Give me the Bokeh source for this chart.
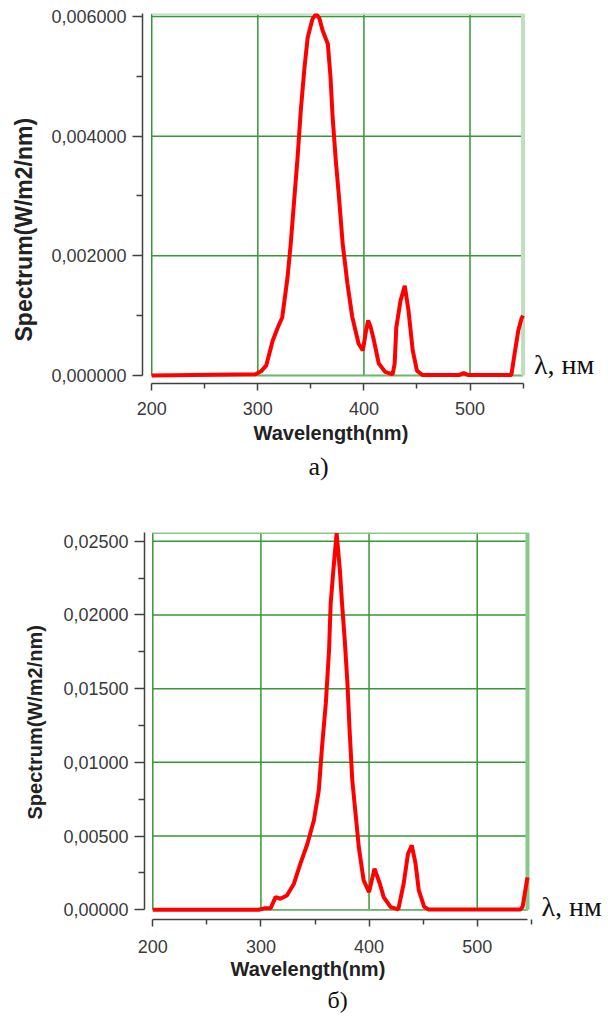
from bokeh.plotting import figure
from bokeh.models import FixedTicker, NumeralTickFormatter, Label, Title, Range1d
from bokeh.embed import file_html
from bokeh.resources import INLINE

# ---------------- data ----------------
wl_a = [200, 298, 303, 308, 314, 319, 323, 328, 331, 334, 337.5, 340.5, 344, 347,
        351.5, 355, 358, 361, 366, 368.5, 370.5, 373.5, 376.5, 380, 384.5, 389,
        395, 399, 402, 404, 406.5, 409.5, 414, 420, 427, 429, 430.5, 434.5, 438.5,
        442, 446, 450, 455, 490, 494, 498, 539, 542, 545.5, 548.5, 550]
sp_a = [0, 0.00002, 0.00007, 0.00017, 0.00058, 0.00081, 0.00097, 0.00164, 0.0022,
        0.00287, 0.00365, 0.00443, 0.00515, 0.00565, 0.00596, 0.00604, 0.00597,
        0.00577, 0.00554, 0.00499, 0.00432, 0.00359, 0.00298, 0.0022, 0.00153,
        0.00098, 0.00053, 0.00042, 0.00075, 0.00092, 0.0008, 0.00058, 0.0002,
        0.00006, 0.00002, 0.0002, 0.0008, 0.00125, 0.0015, 0.00109, 0.00042,
        0.00008, 0.00001, 0.00001, 0.00004, 0.00001, 0.00001, 0.00036, 0.00075,
        0.00095, 0.001]

wl_b = [200, 298, 303, 309, 313.5, 318, 324, 330.5, 336.5, 343, 349, 353.5, 356.5,
        360, 363, 364.5, 367, 368.5, 370, 371.5, 373, 375, 377.5, 380, 382, 384.5,
        387.5, 390.5, 395, 400, 405, 410, 413.5, 420, 427, 432, 436, 439.5, 443,
        446, 451, 455, 540, 542, 545, 546.5]
sp_b = [0, 0, 0.0001, 0.0001, 0.00086, 0.00075, 0.00097, 0.00177, 0.00313, 0.00448,
        0.00607, 0.0081, 0.01105, 0.014, 0.01762, 0.02079, 0.02305, 0.0243, 0.02554,
        0.0243, 0.02305, 0.02079, 0.0183, 0.01535, 0.01218, 0.00878, 0.00652,
        0.00425, 0.00199, 0.0012, 0.00279, 0.00177, 0.00086, 0.00018, 0.00003,
        0.00177, 0.0038, 0.00437, 0.00313, 0.00131, 0.0002, 0.00002, 0.00002,
        0.0002, 0.00154, 0.0022]

x_ticks = [200, 300, 400, 500]
x_tick_labels = ["200", "300", "400", "500"]
x_minor = [250, 350, 450, 550]

y_ticks_a = [0, 0.002, 0.004, 0.006]
y_tick_labels_a = ["0,000000", "0,002000", "0,004000", "0,006000"]
y_minor_a = [0.001, 0.003, 0.005]

y_ticks_b = [0, 0.005, 0.01, 0.015, 0.02, 0.025]
y_tick_labels_b = ["0,00000", "0,00500", "0,01000", "0,01500", "0,02000", "0,02500"]
y_minor_b = [0.0025, 0.0075, 0.0125, 0.0175, 0.0225]

x_title = "Wavelength(nm)"
y_title = "Spectrum(W/m2/nm)"
unit_label = "λ, нм"
captions = ["а)", "б)"]

GRID = "#339933"
RED = "#ff0000"
AXIS = "#404040"


def make_chart(wl, sp, yt, ytl, ymin, fmt, geo):
    p = figure(width=geo["w"], height=geo["h"], output_backend="svg",
               toolbar_location=None, title=None,
               x_range=Range1d(geo["x0"], geo["x1"]),
               y_range=Range1d(geo["y0"], geo["y1"]),
               min_border_left=geo["bl"], min_border_right=0,
               min_border_top=geo["bt"], min_border_bottom=geo["bb"])
    p.outline_line_color = None
    p.grid.visible = False
    p.background_fill_color = "white"

    xmax = geo["xmax"]
    ymax = geo["y1"]
    n_x = len(x_ticks) - 1
    # grid lines
    p.segment(x0=x_ticks[1:], y0=[0] * n_x, x1=x_ticks[1:], y1=[ymax] * n_x,
              line_color=GRID, line_width=1.5)
    p.segment(x0=[x_ticks[0]] * len(yt), y0=yt, x1=[xmax] * len(yt), y1=yt,
              line_color=GRID, line_width=1.5)
    # plot-area border
    p.segment(x0=[x_ticks[0]], y0=[0], x1=[x_ticks[0]], y1=[ymax],
              line_color=GRID, line_width=1.5)
    p.segment(x0=[x_ticks[0]], y0=[0], x1=[xmax], y1=[0],
              line_color="#6ab86a", line_width=1.5)
    p.segment(x0=[x_ticks[0]], y0=[ymax], x1=[xmax], y1=[ymax],
              line_color=geo["edge"], line_width=3)
    p.segment(x0=[xmax], y0=[0], x1=[xmax], y1=[ymax],
              line_color=geo["edge"], line_width=4)

    p.line(wl, sp, line_color=RED, line_width=4)

    # axes
    xa = p.xaxis[0]
    xa.ticker = FixedTicker(ticks=x_ticks, minor_ticks=x_minor)
    xa.major_label_overrides = dict(zip(x_ticks, x_tick_labels))
    xa.bounds = (x_ticks[0], xmax)
    ya = p.yaxis[0]
    ya.ticker = FixedTicker(ticks=yt, minor_ticks=ymin)
    ya.formatter = NumeralTickFormatter(format=fmt, language="ru")
    ya.major_label_overrides = dict(zip(yt, ytl))
    ya.bounds = (0, ymax)
    for ax in (xa, ya):
        ax.axis_line_color = AXIS
        ax.axis_line_width = 1.5
        ax.major_tick_line_color = AXIS
        ax.minor_tick_line_color = AXIS
        ax.major_tick_line_width = 1.5
        ax.minor_tick_line_width = 1.5
        ax.major_tick_in = 0
        ax.minor_tick_in = 0
        ax.major_label_text_font = "Liberation Sans"
        ax.major_label_text_font_size = "18px"
        ax.major_label_text_color = "#3a3a3a"
    xa.major_tick_out = 7
    xa.minor_tick_out = 5
    xa.major_label_standoff = geo["xl_std"]
    ya.major_tick_out = 10
    ya.minor_tick_out = 6
    ya.major_label_standoff = 6

    p.add_layout(Title(text=y_title, align="left", offset=geo["yt_off"],
                       vertical_align=geo["yt_va"],
                       text_font="Liberation Sans", text_font_size=geo["yt_size"],
                       text_font_style="bold", text_color="#222222",
                       standoff=geo["yt_std"]), "left")
    p.add_layout(Title(text=x_title, align="left", offset=geo["xt_off"],
                       text_font="Liberation Sans", text_font_size="20px",
                       text_font_style="bold", text_color="#222222",
                       standoff=geo["xt_std"]), "below")
    p.add_layout(Title(text=geo["cap"], align="left", offset=geo["cap_off"],
                       text_font="Liberation Serif", text_font_size=geo["cap_size"],
                       text_font_style="normal", text_color="#111111",
                       standoff=geo["cap_std"]), "below")
    p.add_layout(Label(x=xmax, y=0, x_offset=geo["u_dx"], y_offset=geo["u_dy"],
                       text=unit_label, text_font="Liberation Serif",
                       text_font_size="28px", text_color="#111111",
                       text_baseline="middle"))
    return p


geo_a = dict(w=608, h=490, bl=139, bt=13, bb=107,
             x0=191.29, x1=630.55, xmax=550, y0=-0.0001337, y1=0.00605,
             edge="#bfe0bf", xl_std=11,
             yt_off=42, yt_size="23px", yt_std=20, yt_va="top",
             xt_off=111, xt_std=4, cap=captions[0], cap_off=166, cap_size="26px",
             cap_std=9, u_dx=11, u_dy=11)
geo_b = dict(w=608, h=528, bl=144, bt=42, bb=99,
             x0=192.32, x1=621.43, xmax=546.5, y0=-0.000658, y1=0.02559,
             edge="#88c888", xl_std=13,
             yt_off=100, yt_size="20px", yt_std=30, yt_va="bottom",
             xt_off=86, xt_std=0, cap=captions[1], cap_off=183, cap_size="24px",
             cap_std=10, u_dx=14, u_dy=3)

p1 = make_chart(wl_a, sp_a, y_ticks_a, y_tick_labels_a, y_minor_a, "0.000000", geo_a)
p2 = make_chart(wl_b, sp_b, y_ticks_b, y_tick_labels_b, y_minor_b, "0.00000", geo_b)

# two independent roots so that the frames are not aligned to each other
open("out.html", "w").write(file_html([p1, p2], INLINE))
